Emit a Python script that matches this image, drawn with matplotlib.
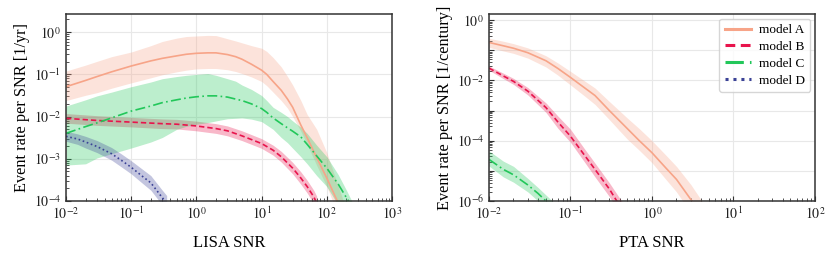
import math
import matplotlib
matplotlib.use("Agg")
import matplotlib.pyplot as plt
from matplotlib.ticker import LogLocator, FuncFormatter, NullFormatter

plt.rcParams['font.family'] = ['Liberation Serif', 'DejaVu Serif']
plt.rcParams['mathtext.fontset'] = 'stix'

# ---------------- LISA panel data ----------------
lisa_snr = [0.01, 0.02, 0.03, 0.05, 0.1, 0.2, 0.3, 0.5, 0.7, 1, 1.5, 2, 3, 4, 5, 7,
            10, 12, 15, 20, 25, 30, 40, 50, 70, 100, 150, 200, 250]

lisa_A_med = [0.051, 0.072, 0.089, 0.115, 0.158, 0.209, 0.24, 0.275, 0.30, 0.316,
              0.324, 0.324, 0.295, 0.263, 0.229, 0.174, 0.126, 0.1, 0.068, 0.042,
              0.026, 0.0166, 0.0063, 0.00316, 0.00107, 3.5e-4, 8.9e-5, 3e-5, 1e-5]
lisa_A_hi = [0.12, 0.166, 0.204, 0.263, 0.339, 0.479, 0.603, 0.724, 0.79, 0.813,
             0.84, 0.832, 0.70, 0.62, 0.56, 0.48, 0.417, 0.35, 0.251, 0.151, 0.089,
             0.056, 0.024, 0.0112, 0.005, 0.0014, 2.2e-4, 6.3e-5, 2e-5]
lisa_A_lo = [0.024, 0.032, 0.037, 0.047, 0.063, 0.083, 0.098, 0.115, 0.126, 0.135,
             0.138, 0.138, 0.129, 0.117, 0.105, 0.087, 0.068, 0.054, 0.038, 0.024,
             0.0158, 0.01, 0.0045, 0.0022, 7e-4, 2.2e-4, 4.5e-5, 1.5e-5, 5e-6]

lisa_C_med = [0.004, 0.0058, 0.0071, 0.0093, 0.0135, 0.0178, 0.0214, 0.025, 0.0275,
              0.0295, 0.031, 0.031, 0.029, 0.026, 0.024, 0.02, 0.0155, 0.0126, 0.0093,
              0.0068, 0.0054, 0.0045, 0.0033, 0.0022, 0.00117, 6.0e-4, 2.5e-4, 1.2e-4,
              7e-5]
lisa_C_hi = [0.0178, 0.025, 0.031, 0.038, 0.051, 0.066, 0.079, 0.089, 0.095, 0.1,
             0.105, 0.095, 0.079, 0.069, 0.056, 0.044, 0.0316, 0.024, 0.0166, 0.0126,
             0.01, 0.0079, 0.0056, 0.004, 0.0021, 0.00112, 4.2e-4, 1.8e-4, 9e-5]
lisa_C_lo = [7.1e-4, 7.6e-4, 0.00105, 0.00132, 0.0018, 0.0025, 0.0032, 0.005, 0.0059,
             0.0066, 0.0072, 0.0079, 0.0089, 0.0091, 0.0093, 0.0087, 0.0076, 0.0063,
             0.005, 0.0032, 0.0024, 0.00178, 0.00112, 7.6e-4, 4.0e-4, 2.2e-4, 7.9e-5,
             4e-5, 2e-5]

lisa_snr_B = [0.01, 0.03, 0.1, 0.3, 0.5, 1, 2, 3, 5, 10, 15, 20, 30, 40, 50, 63, 70]
lisa_B_med = [0.0091, 0.0081, 0.0074, 0.0068, 0.0066, 0.0060, 0.0052, 0.0046, 0.0035,
              0.0023, 0.0016, 0.00112, 6.0e-4, 3.5e-4, 2.2e-4, 1.26e-4, 8.9e-5]
lisa_B_hi = [0.0118, 0.0105, 0.0096, 0.0088, 0.0086, 0.0078, 0.0068, 0.0060, 0.0046,
             0.0030, 0.0021, 0.00150, 8.2e-4, 4.9e-4, 3.1e-4, 1.8e-4, 1.3e-4]
lisa_B_lo = [0.0070, 0.0062, 0.0057, 0.0052, 0.0051, 0.0046, 0.0040, 0.0035, 0.0027,
             0.00177, 0.00122, 8.4e-4, 4.4e-4, 2.5e-4, 1.55e-4, 8.7e-5, 6.2e-5]

lisa_snr_D = [0.01, 0.015, 0.02, 0.03, 0.05, 0.07, 0.1, 0.15, 0.2, 0.3, 0.35]
lisa_D_med = [0.0034, 0.00295, 0.0025, 0.00195, 0.00132, 9.3e-4, 6.3e-4, 3.8e-4,
              2.7e-4, 1.2e-4, 8.9e-5]
lisa_D_hi = [0.0045, 0.0039, 0.0034, 0.0027, 0.00185, 0.00132, 9.0e-4, 5.6e-4,
             4.0e-4, 1.8e-4, 1.35e-4]
lisa_D_lo = [0.0026, 0.0022, 0.0018, 0.0014, 9.3e-4, 6.5e-4, 4.4e-4, 2.6e-4,
             1.8e-4, 8.0e-5, 5.9e-5]

# ---------------- PTA panel data ----------------
pta_snr_A = [0.01, 0.015, 0.02, 0.03, 0.05, 0.07, 0.1, 0.15, 0.2, 0.3, 0.5, 0.7, 1,
             1.5, 2, 3, 4, 5]
pta_A_med = [0.182, 0.141, 0.117, 0.083, 0.045, 0.025, 0.0126, 0.0056, 0.00316, 0.001,
             2.5e-4, 1.0e-4, 4.0e-5, 1.2e-5, 5.2e-6, 1.12e-6, 4.0e-7, 2e-7]
pta_A_hi = [0.25, 0.2, 0.166, 0.12, 0.066, 0.038, 0.02, 0.0095, 0.0056, 0.002, 5.6e-4,
            2.5e-4, 1.0e-4, 3.2e-5, 1.4e-5, 3.5e-6, 1.1e-6, 5e-7]
pta_A_lo = [0.126, 0.095, 0.079, 0.055, 0.028, 0.015, 0.0071, 0.003, 0.0016, 5.0e-4,
            1.12e-4, 4.8e-5, 1.86e-5, 5e-6, 2.0e-6, 4e-7, 1.6e-7, 8e-8]

pta_snr_B = [0.01, 0.015, 0.02, 0.03, 0.05, 0.07, 0.1, 0.15, 0.2, 0.3, 0.4, 0.5]
pta_B_med = [0.0257, 0.0141, 0.0093, 0.0044, 0.00126, 4.2e-4, 1.41e-4, 3.2e-5,
             1.12e-5, 2.5e-6, 7.1e-7, 3.2e-7]
pta_B_hi = [0.030, 0.0174, 0.0117, 0.0058, 0.0018, 6.6e-4, 2.4e-4, 5.2e-5, 1.8e-5,
            4.0e-6, 1.26e-6, 5.6e-7]
pta_B_lo = [0.0219, 0.0115, 0.0074, 0.0033, 8.7e-4, 2.6e-4, 8.9e-5, 1.9e-5, 6.3e-6,
            1.4e-6, 4.0e-7, 1.6e-7]

pta_snr_C = [0.01, 0.015, 0.02, 0.03, 0.04, 0.05, 0.06, 0.07]
pta_C_med = [2.4e-5, 1.12e-5, 7.4e-6, 3.4e-6, 1.78e-6, 1.0e-6, 6.3e-7, 4.0e-7]
pta_C_hi = [4.6e-5, 2.1e-5, 1.41e-5, 5.6e-6, 2.8e-6, 1.58e-6, 1.0e-6, 6.3e-7]
pta_C_lo = [1.45e-5, 6.3e-6, 4.2e-6, 2.0e-6, 1.0e-6, 5.6e-7, 3.5e-7, 2.5e-7]

labels = ['model A', 'model B', 'model C', 'model D']
colors = ['#F7A488', '#E8144C', '#22C75A', '#3B4296']
styles = ['-', (0, (3.2, 1.8)), (0, (6, 2, 1, 2)), (0, (1, 1.6))]

fig = plt.figure(figsize=(8.31, 2.54), dpi=100)
axL = fig.add_axes([0.0794, 0.2087, 0.3923, 0.7362])
axR = fig.add_axes([0.5884, 0.2087, 0.3923, 0.7362])


def band(ax, x, med, lo, hi, i, lw=1.2):
    ax.fill_between(x, lo, hi, color=colors[i], alpha=0.3, lw=0)
    ax.plot(x, med, color=colors[i], ls=styles[i], lw=lw, label=labels[i])


band(axL, lisa_snr, lisa_A_med, lisa_A_lo, lisa_A_hi, 0)
band(axL, lisa_snr_B, lisa_B_med, lisa_B_lo, lisa_B_hi, 1)
band(axL, lisa_snr, lisa_C_med, lisa_C_lo, lisa_C_hi, 2)
band(axL, lisa_snr_D, lisa_D_med, lisa_D_lo, lisa_D_hi, 3)

band(axR, pta_snr_A, pta_A_med, pta_A_lo, pta_A_hi, 0)
band(axR, pta_snr_B, pta_B_med, pta_B_lo, pta_B_hi, 1)
band(axR, pta_snr_C, pta_C_med, pta_C_lo, pta_C_hi, 2)
axR.plot([], [], color=colors[3], ls=styles[3], lw=1.2, label=labels[3])


def sup(v, pos):
    e = int(round(math.log10(v)))
    return r'$10^{%d}$' % e


def sup_even(v, pos):
    e = int(round(math.log10(v)))
    return r'$10^{%d}$' % e if e % 2 == 0 else ''


for ax in (axL, axR):
    ax.set_xscale('log')
    ax.set_yscale('log')
    ax.grid(True, which='major', color='#e8e8e8', lw=0.8)
    ax.set_axisbelow(True)
    for s in ax.spines.values():
        s.set_color('#333333')
        s.set_linewidth(1.1)
    ax.tick_params(which='both', direction='in', labelsize=10, colors='#333333',
                   labelcolor='#222222')
    ax.tick_params(which='major', length=3.5, width=0.8)
    ax.tick_params(which='minor', length=2, width=0.6)
    ax.xaxis.set_major_locator(LogLocator(base=10, numticks=20))
    ax.xaxis.set_minor_locator(LogLocator(base=10, subs=range(2, 10), numticks=20))
    ax.xaxis.set_minor_formatter(NullFormatter())
    ax.yaxis.set_major_locator(LogLocator(base=10, numticks=20))
    ax.yaxis.set_minor_locator(LogLocator(base=10, subs=range(2, 10), numticks=20))
    ax.yaxis.set_minor_formatter(NullFormatter())
    ax.xaxis.set_major_formatter(FuncFormatter(sup))

axL.set_xlim(1e-2, 1e3)
axL.set_ylim(1e-4, 2.7)
axL.yaxis.set_major_formatter(FuncFormatter(sup))
axL.set_xlabel('LISA SNR', fontsize=12, labelpad=9)
axL.set_ylabel('Event rate per SNR [1/yr]', fontsize=11.7, labelpad=3)

axR.set_xlim(1e-2, 1e2)
axR.set_ylim(1e-6, 1.6)
axR.yaxis.set_major_formatter(FuncFormatter(sup_even))
axR.set_xlabel('PTA SNR', fontsize=12, labelpad=9)
axR.set_ylabel('Event rate per SNR [1/century]', fontsize=11.7, labelpad=3)

leg = axR.legend(loc='upper right', fontsize=9.5, handlelength=2.0, frameon=True,
                 fancybox=True, edgecolor='#cccccc', borderpad=0.4,
                 labelspacing=0.35, handletextpad=0.6, borderaxespad=0.35)
for h in leg.get_lines():
    h.set_linewidth(2.2)

fig.savefig('out.png', dpi=100)
